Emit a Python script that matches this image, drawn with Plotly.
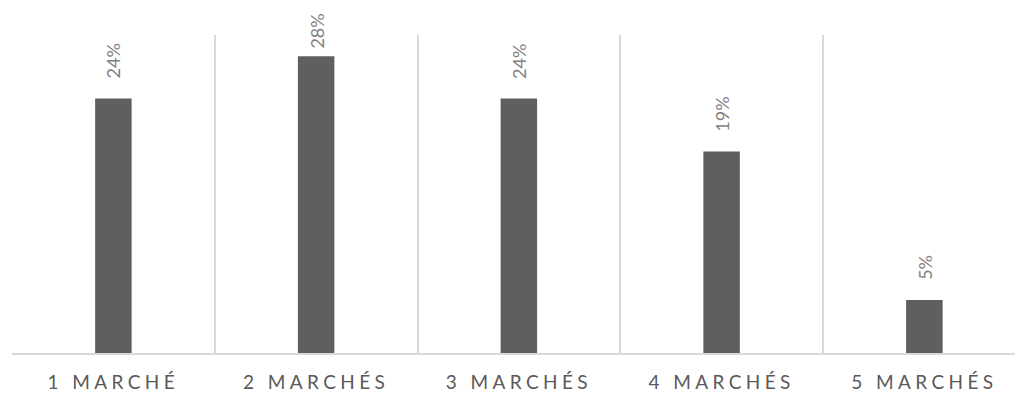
import plotly.graph_objects as go

categories = ["1 MARCHÉ", "2 MARCHÉS", "3 MARCHÉS", "4 MARCHÉS", "5 MARCHÉS"]
shares = [24, 28, 24, 19, 5]
labels = [f"{v}%" for v in shares]

Y_MAX = 30
PLOT_TOP, PLOT_BOTTOM = 35, 41
HEIGHT = 394
px_per_unit = (HEIGHT - PLOT_TOP - PLOT_BOTTOM) / Y_MAX
LABEL_GAP = 18      # preferred gap between bar top and its label
LABEL_LEN = 38      # approximate rotated label length in px
LABEL_MIN_TOP = 13  # labels are pushed down so they stay inside the chart

fig = go.Figure(
    go.Bar(
        x=categories,
        y=shares,
        width=0.18,
        marker=dict(color="#5f5f5f", line=dict(width=0)),
        hoverinfo="skip",
    )
)

# rotated value labels above each bar
for cat, val, lab in zip(categories, shares, labels):
    bar_top_px = PLOT_TOP + (Y_MAX - val) * px_per_unit
    shift = min(LABEL_GAP, bar_top_px - LABEL_LEN - LABEL_MIN_TOP)
    fig.add_annotation(
        x=cat, y=val, text=lab, textangle=-90,
        xanchor="center", yanchor="bottom", yshift=shift,
        showarrow=False,
        font=dict(family="Lato", size=18, color="#7f7f7f"),
    )

fig.update_layout(
    width=1015, height=HEIGHT,
    margin=dict(l=12, r=0, t=PLOT_TOP, b=PLOT_BOTTOM, autoexpand=False),
    paper_bgcolor="white", plot_bgcolor="white",
    showlegend=False,
    xaxis=dict(
        type="category",
        range=[-0.5, 4.447],
        tickson="boundaries",
        showgrid=True, gridcolor="#d9d9d9", gridwidth=1.5,
        ticks="",
        showline=True, linecolor="#d9d9d9", linewidth=1.5,
        tickfont=dict(family="Lato", size=19, color="#595959"),
        ticklabelstandoff=11,
        automargin=False,
        fixedrange=True,
    ),
    yaxis=dict(
        range=[0, Y_MAX],
        showgrid=False, zeroline=False, showticklabels=False, ticks="",
        automargin=False,
        fixedrange=True,
    ),
)

fig.write_html(
    "out.html",
    config=dict(displayModeBar=False),
    post_script="document.querySelectorAll('.xtick text').forEach(function(t){t.style.letterSpacing='4.4px';});",
)
